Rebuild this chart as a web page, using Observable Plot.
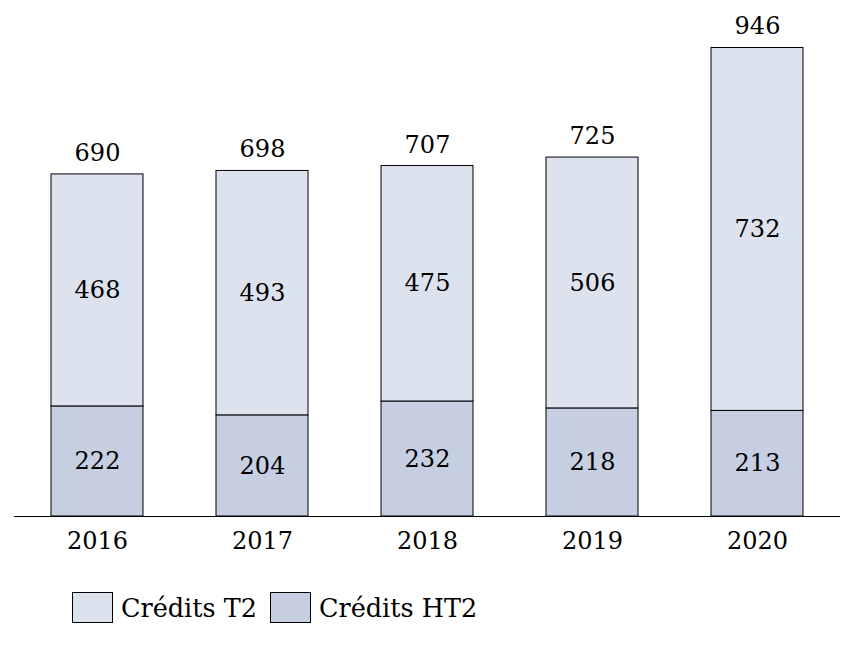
<!DOCTYPE html>
<html>
<head>
<meta charset="utf-8">
<script src="https://cdn.jsdelivr.net/npm/d3@7"></script>
<script src="https://cdn.jsdelivr.net/npm/@observablehq/plot@0.6"></script>
<style>
  html, body { margin: 0; padding: 0; background: #fff; }
  body { width: 854px; height: 645px; overflow: hidden; font-family: "DejaVu Serif", serif; }
  .legend { display: flex; align-items: center; margin-left: 72px; margin-top: 22px; font-size: 25.5px; color: #000; }
  .legend .sw { width: 39px; height: 29px; border: 1.5px solid #000; margin-right: 8px; }
  .legend .item { display: flex; align-items: center; margin-right: 13px; }
</style>
</head>
<body>
<div id="chart"></div>
<div class="legend" id="legend"></div>
<script>
const years = ["2016", "2017", "2018", "2019", "2020"];
const creditsHT2 = [222, 204, 232, 218, 213];
const creditsT2 = [468, 493, 475, 506, 732];
const totals = [690, 698, 707, 725, 946];
const seriesNames = ["Crédits HT2", "Crédits T2"];
const seriesColors = ["#c5cfe1", "#dce3ee"];

const rows = [];
years.forEach((y, i) => {
  rows.push({year: y, series: seriesNames[0], value: creditsHT2[i]});
  rows.push({year: y, series: seriesNames[1], value: creditsT2[i]});
});
const totalRows = years.map((y, i) => ({year: y, total: totals[i]}));

const plot = Plot.plot({
  width: 854,
  height: 570,
  marginLeft: 14,
  marginRight: 14,
  marginTop: 47,
  marginBottom: 54,
  style: {fontFamily: "'DejaVu Serif', serif", fontSize: "24px", color: "#000", background: "#fff"},
  x: {domain: years, paddingInner: 0.444, paddingOuter: 0.222, label: null, tickSize: 0, tickPadding: 15},
  y: {domain: [0, 946], axis: null},
  color: {domain: seriesNames, range: seriesColors},
  marks: [
    Plot.barY(rows, {x: "year", y: "value", fill: "series", stroke: "#000", strokeWidth: 1, order: seriesNames}),
    Plot.text(rows, Plot.stackY({x: "year", y: "value", z: "series", order: seriesNames, text: d => String(d.value), fill: "#000", fontSize: 24})),
    Plot.text(totalRows, {x: "year", y: "total", text: d => String(d.total), dy: -21, fill: "#000", fontSize: 24}),
    Plot.ruleY([0], {stroke: "#000", strokeWidth: 1.2})
  ]
});
document.getElementById("chart").appendChild(plot);

const legend = document.getElementById("legend");
[1, 0].forEach(k => {
  const item = document.createElement("div");
  item.className = "item";
  const sw = document.createElement("div");
  sw.className = "sw";
  sw.style.background = seriesColors[k];
  const label = document.createElement("span");
  label.textContent = seriesNames[k];
  item.appendChild(sw);
  item.appendChild(label);
  legend.appendChild(item);
});
</script>
</body>
</html>
